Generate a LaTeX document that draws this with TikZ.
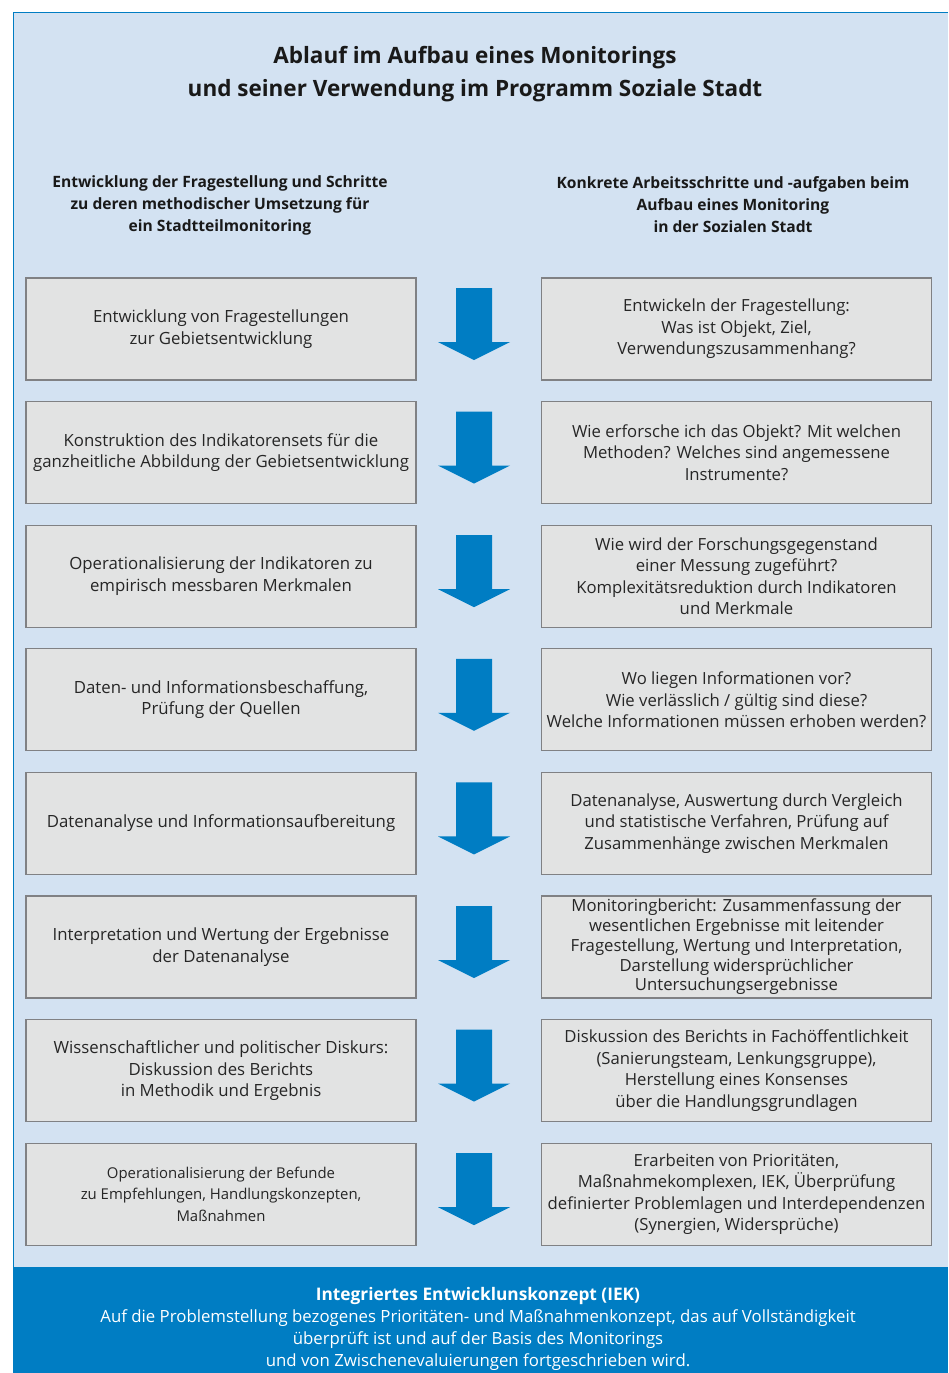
\documentclass[tikz,border=0pt]{standalone}
\usepackage{fontspec}
\setmainfont{Open Sans}
\usetikzlibrary{positioning}
\definecolor{panelblue}{RGB}{211,226,242}
\definecolor{iekblue}{RGB}{0,125,195}
\definecolor{boxgray}{RGB}{226,227,227}
\definecolor{framegray}{RGB}{128,129,132}
\tikzset{
  stepbox/.style={draw=framegray,line width=1.3pt,fill=boxgray,minimum width=390pt,minimum height=102pt,
    inner sep=0pt,align=center,text=black!85},
  headtext/.style={align=center,text=black!90,font=\bfseries\fontsize{15.6}{22}\selectfont}
}
\begin{document}
\begin{tikzpicture}[x=1pt,y=-1pt]
\useasboundingbox(0,0)rectangle(948,1373);
\fill[panelblue](13,12)rectangle(948,1267);
\draw[iekblue,line width=1pt](948,12.5)--(13.5,12.5)--(13.5,1267);
\fill[iekblue](13,1267)rectangle(948,1373);
\node[align=center,text=black!90,font=\bfseries\fontsize{22.5}{33}\selectfont](title)at(475,74)
  {Ablauf im Aufbau eines Monitorings\\und seiner Verwendung im Programm Soziale Stadt};
\node[headtext](lhead)at(220,205){Entwicklung der Fragestellung und Schritte\\zu deren methodischer Umsetzung für\\ein Stadtteilmonitoring};
\node[headtext](rhead)at(733,205){Konkrete Arbeitsschritte und -aufgaben beim\\Aufbau eines Monitoring\\in der Sozialen Stadt};
\foreach \i/\lf/\lt/\rf/\rt in {
  1/16.8/{Entwicklung von Fragestellungen\\zur Gebietsentwicklung}/21.5/{Entwickeln der Fragestellung:\\Was ist Objekt, Ziel,\\Verwendungszusammenhang?},
  2/16.8/{Konstruktion des Indikatorensets für die\\ganzheitliche Abbildung der Gebietsentwicklung}/21.5/{Wie erforsche ich das Objekt? Mit welchen\\Methoden? Welches sind angemessene\\Instrumente?},
  3/16.8/{Operationalisierung der Indikatoren zu\\empirisch messbaren Merkmalen}/21.5/{Wie wird der Forschungsgegenstand\\einer Messung zugeführt?\\Komplexitätsreduktion durch Indikatoren\\und Merkmale},
  4/16.8/{Daten- und Informationsbeschaffung,\\Prüfung der Quellen}/21.5/{Wo liegen Informationen vor?\\Wie verlässlich / gültig sind diese?\\Welche Informationen müssen erhoben werden?},
  5/16.8/{Datenanalyse und Informationsaufbereitung}/21.5/{Datenanalyse, Auswertung durch Vergleich\\und statistische Verfahren, Prüfung auf\\Zusammenhänge zwischen Merkmalen},
  6/16.8/{Interpretation und Wertung der Ergebnisse\\der Datenanalyse}/19.8/{Monitoringbericht: Zusammenfassung der\\wesentlichen Ergebnisse mit leitender\\Fragestellung, Wertung und Interpretation,\\Darstellung widersprüchlicher\\Untersuchungsergebnisse},
  7/16.8/{Wissenschaftlicher und politischer Diskurs:\\Diskussion des Berichts\\in Methodik und Ergebnis}/21.5/{Diskussion des Berichts in Fachöffentlichkeit\\(Sanierungsteam, Lenkungsgruppe),\\Herstellung eines Konsenses\\über die Handlungsgrundlagen},
  8/14.9/{Operationalisierung der Befunde\\zu Empfehlungen, Handlungskonzepten,\\Maßnahmen}/21.5/{Erarbeiten von Prioritäten,\\Maßnahmekomplexen, IEK, Überprüfung\\definierter Problemlagen und Interdependenzen\\(Synergien, Widersprüche)}}{
  \node[stepbox,font=\fontsize{\lf}{21.5}\selectfont](l\i)at(221,329+123.6*\i-123.6){\lt};
  \node[stepbox,font=\fontsize{16.7}{\rf}\selectfont](r\i)at(736.5,329+123.6*\i-123.6){\rt};
  \fill[iekblue,shift={(0,{123.6*(\i-1)})}](456,288)--(492,288)--(492,342)--(510,342)--(474,360)--(438,342)--(456,342)--cycle;
}
\node[align=center,text=white,font=\fontsize{16.8}{22}\selectfont](iek)at(478,1329)
  {{\bfseries\fontsize{17.3}{22}\selectfont Integriertes Entwicklunskonzept (IEK)}\\Auf die Problemstellung bezogenes Prioritäten- und Maßnahmenkonzept, das auf Vollständigkeit\\überprüft ist und auf der Basis des Monitorings\\und von Zwischenevaluierungen fortgeschrieben wird.};
\end{tikzpicture}
\end{document}
